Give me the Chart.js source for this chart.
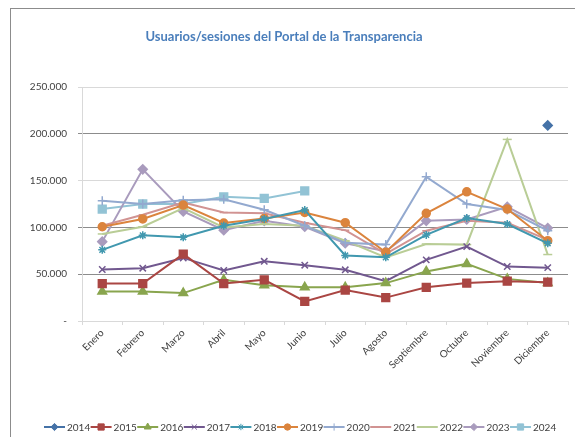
<!DOCTYPE html>
<html>
<head>
<meta charset="utf-8">
<script src="https://cdn.jsdelivr.net/npm/chart.js@4.4.1/dist/chart.umd.min.js"></script>
<style>
  html, body { margin: 0; padding: 0; background: #fff; }
</style>
</head>
<body>
<canvas id="chartLine" width="575" height="437"></canvas>
<script>
const months = ["Enero", "Febrero", "Marzo", "Abril", "Mayo", "Junio", "Julio", "Agosto", "Septiembre", "Octubre", "Noviembre", "Diciembre"];
const yearLabels = ["2014", "2015", "2016", "2017", "2018", "2019", "2020", "2021", "2022", "2023", "2024"];

const s2014 = [null, null, null, null, null, null, null, null, null, null, null, 209000];
const s2015 = [40000, 40000, 71500, 40000, 44000, 21000, 33000, 25000, 36000, 40500, 42500, 41500];
const s2016 = [31500, 31500, 29800, 44000, 38300, 36000, 36000, 40500, 53000, 61000, 45000, 40500];
const s2017 = [55000, 56400, 67400, 54000, 63800, 59600, 54700, 42600, 65300, 79500, 58200, 57000];
const s2018 = [76000, 91500, 89400, 101800, 109000, 118500, 70000, 68000, 92000, 110000, 103600, 83000];
const s2019 = [100700, 109000, 123800, 104700, 109600, 116000, 105000, 73400, 115000, 138000, 119600, 85800];
const s2020 = [128400, 124900, 129000, 130000, 118800, 101800, 83500, 81600, 154000, 125000, 118500, 96500];
const s2021 = [101800, 113500, 126600, 116000, 115000, 105000, 97000, 71700, 96500, 107000, 105000, 86600];
const s2022 = [93000, 100700, 120600, 100000, 103600, 101800, 85800, 68000, 82300, 81600, 194000, 71000];
const s2023 = [84800, 162000, 117000, 97000, 107000, 100700, 83000, 74500, 107000, 108500, 122000, 99300];
const s2024 = [119600, 125000, 125000, 132700, 131000, 139000, null, null, null, null, null, null];

const seriesValues = [s2014, s2015, s2016, s2017, s2018, s2019, s2020, s2021, s2022, s2023, s2024];
const seriesColors = ["#4572A7", "#AA4643", "#89A54E", "#71588F", "#4198AF", "#DB843D", "#93A9CF", "#D19392", "#B9CD96", "#A99BBD", "#92C3D5"];
const seriesMarkers = ["rectRot", "rect", "triangle", "crossRot", "star", "circle", "cross", "line", "line", "rectRot", "rect"];
const markerSizes = [4.5, 5.5, 5, 4.5, 4, 4, 4.5, 4, 4.5, 4.5, 5.5];

const FONT = 'Lato, "Open Sans", "Liberation Sans", sans-serif';
Chart.defaults.font.family = FONT;

const fmt = (v) => v === 0 ? "-" : String(v).replace(/\B(?=(\d{3})+(?!\d))/g, ".");

// frame, title and excel-like legend drawn by hand
const decor = {
  id: "decor",
  beforeDraw(chart) {
    const ctx = chart.ctx;
    ctx.save();
    ctx.fillStyle = "#fff";
    ctx.fillRect(0, 0, chart.width, chart.height);
    ctx.strokeStyle = "#8c8c8c";
    ctx.lineWidth = 1;
    ctx.strokeRect(10.5, 8.5, 700, 600);
    ctx.restore();
  },
  afterDraw(chart) {
    const ctx = chart.ctx;
    ctx.save();
    ctx.font = "bold 13px " + FONT;
    ctx.fillStyle = "#4A7EBB";
    ctx.textAlign = "center";
    ctx.textBaseline = "middle";
    ctx.fillText("Usuarios/sesiones del Portal de la Transparencia", 284, 37);

    ctx.font = "10px " + FONT;
    ctx.textAlign = "left";
    const lineLen = 21, gap = 2, pitch = 46.6;
    let x = 44;
    const y = 427;
    chart.data.datasets.forEach((ds, i) => {
      ctx.strokeStyle = ds.borderColor;
      ctx.lineWidth = 2;
      ctx.beginPath();
      ctx.moveTo(x, y);
      ctx.lineTo(x + lineLen, y);
      ctx.stroke();
      ctx.fillStyle = ds.pointBackgroundColor;
      ctx.strokeStyle = ds.pointBorderColor;
      ctx.lineWidth = 1;
      Chart.helpers.drawPoint(ctx, {pointStyle: ds.pointStyle, radius: ds.pointRadius * 0.8, borderWidth: 1, rotation: 0}, x + lineLen / 2, y);
      ctx.fillStyle = "#404040";
      ctx.fillText(yearLabels[i], x + lineLen + gap, y + 0.5);
      x += pitch;
    });
    ctx.restore();
  }
};

const datasets = yearLabels.map((label, i) => ({
  label: label,
  data: seriesValues[i],
  borderColor: seriesColors[i],
  backgroundColor: seriesColors[i],
  pointBackgroundColor: seriesColors[i],
  pointBorderColor: seriesColors[i],
  pointStyle: seriesMarkers[i],
  pointRadius: markerSizes[i],
  pointBorderWidth: 1.5,
  borderWidth: 2,
  tension: 0,
  spanGaps: false,
}));

new Chart(document.getElementById("chartLine"), {
  type: "line",
  data: { labels: months, datasets: datasets },
  options: {
    responsive: false,
    animation: false,
    layout: { padding: { left: 10, right: 1, top: 87, bottom: 36 } },
    plugins: {
      legend: { display: false },
      title: { display: false },
      tooltip: { enabled: false },
    },
    scales: {
      x: {
        offset: true,
        grid: { offset: true, drawOnChartArea: false, tickLength: 4, color: "#d9d9d9" },
        border: { color: "#d9d9d9" },
        ticks: { minRotation: 45, maxRotation: 45, autoSkip: false, padding: 2, color: "#404040", font: { size: 10 } },
        afterFit: (s) => { s.height = 80; },
      },
      y: {
        min: 0,
        max: 250000,
        grid: {
          tickLength: 4,
          color: (c) => {
            const v = c.tick ? c.tick.value : 0;
            return (v === 0 || v === 150000 || v === 250000) ? "#d9d9d9" : "#8c8c8c";
          },
        },
        border: { color: "#d9d9d9" },
        ticks: { stepSize: 50000, padding: 11, color: "#404040", font: { size: 10 }, callback: (v) => fmt(v) },
        afterFit: (s) => { s.width = 72; },
      },
    },
  },
  plugins: [decor],
});
</script>
</body>
</html>
